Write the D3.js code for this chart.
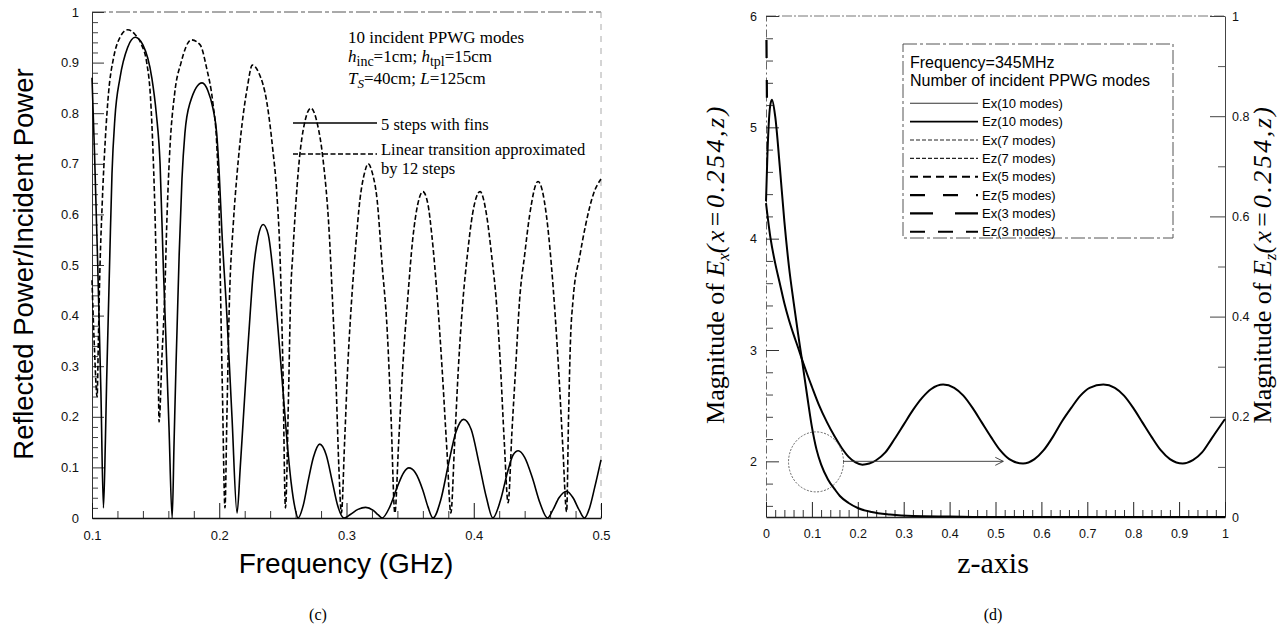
<!DOCTYPE html>
<html><head><meta charset="utf-8">
<script src="https://cdn.jsdelivr.net/npm/d3@7"></script>
<style>body{margin:0;background:#fff}</style>
</head><body><svg id="c" width="1285" height="629"></svg>
<script>
// ---------- panel (c) data ----------
const freqTicks = [0.1, 0.2, 0.3, 0.4, 0.5];
const freqLabels = ["0.1", "0.2", "0.3", "0.4", "0.5"];
const powerTicks = [0, 0.1, 0.2, 0.3, 0.4, 0.5, 0.6, 0.7, 0.8, 0.9, 1];
const powerLabels = ["0", "0.1", "0.2", "0.3", "0.4", "0.5", "0.6", "0.7", "0.8", "0.9", "1"];
// "5 steps with fins" (solid)
const finsCurve = [
  [0.1,0.87],[0.102,0.72],[0.1045,0.5],[0.107,0.25],[0.109,0.02],
  [0.1105,0.15],[0.1115,0.27],[0.1126,0.38],[0.114,0.52],[0.1157,0.68],[0.118,0.79],[0.122,0.87],[0.128,0.93],[0.134,0.95],[0.14,0.935],[0.147,0.87],[0.1505,0.8],[0.1535,0.7],[0.156,0.5],[0.158,0.36],[0.1605,0.18],[0.163,0.0],
  [0.1645,0.15],[0.166,0.3],[0.1668,0.37],[0.1685,0.52],[0.1707,0.67],[0.173,0.76],[0.177,0.82],[0.1865,0.86],[0.191,0.845],[0.195,0.81],[0.198,0.76],[0.2,0.68],[0.202,0.57],[0.206,0.4],[0.21,0.2],[0.214,0.01],
  [0.2165,0.1],[0.219,0.2],[0.2215,0.3],[0.2242,0.4],[0.2265,0.48],[0.2305,0.555],[0.2345,0.58],[0.2385,0.56],[0.2425,0.48],[0.246,0.38],[0.2495,0.27],[0.253,0.16],[0.2565,0.07],[0.2595,0.02],[0.262,0.0],
  [0.266,0.025],[0.27,0.075],[0.274,0.12],[0.279,0.146],[0.284,0.125],[0.289,0.07],[0.293,0.025],[0.298,0.0],
  [0.303,0.007],[0.309,0.017],[0.315,0.021],[0.321,0.015],[0.325,0.006],[0.328,0.0],
  [0.334,0.022],[0.34,0.062],[0.345,0.09],[0.349,0.099],[0.354,0.09],[0.36,0.055],[0.364,0.022],[0.368,0.0],
  [0.374,0.035],[0.38,0.105],[0.386,0.17],[0.392,0.195],[0.398,0.175],[0.404,0.11],[0.41,0.04],[0.415,0.0],
  [0.421,0.035],[0.427,0.095],[0.431,0.125],[0.435,0.133],[0.44,0.12],[0.446,0.08],[0.452,0.03],[0.458,0.0],
  [0.462,0.015],[0.467,0.04],[0.473,0.053],[0.478,0.04],[0.483,0.015],[0.487,0.0],
  [0.491,0.02],[0.495,0.06],[0.5,0.115]
];
// "Linear transition approximated by 12 steps" (dashed)
const linearCurve = [
  [0.1,0.47],[0.102,0.33],[0.104,0.24],[0.105,0.35],[0.106,0.47],[0.108,0.62],[0.1105,0.75],[0.113,0.84],[0.117,0.91],[0.122,0.95],[0.128,0.965],[0.134,0.955],[0.139,0.935],[0.143,0.9],[0.146,0.83],[0.148,0.72],[0.15,0.55],[0.151,0.42],[0.152,0.3],[0.1527,0.19],
  [0.155,0.32],[0.157,0.43],[0.159,0.6],[0.161,0.72],[0.165,0.84],[0.17,0.9],[0.178,0.945],[0.185,0.935],[0.19,0.89],[0.195,0.82],[0.198,0.74],[0.2,0.6],[0.201,0.45],[0.2025,0.25],[0.2045,0.02],
  [0.206,0.2],[0.208,0.43],[0.211,0.58],[0.214,0.68],[0.218,0.78],[0.222,0.85],[0.226,0.895],[0.231,0.88],[0.2375,0.82],[0.242,0.73],[0.245,0.65],[0.248,0.5],[0.25,0.3],[0.252,0.02],
  [0.2545,0.25],[0.256,0.43],[0.258,0.53],[0.263,0.71],[0.267,0.78],[0.272,0.81],[0.277,0.78],[0.2815,0.71],[0.2865,0.56],[0.289,0.43],[0.292,0.25],[0.294,0.1],[0.296,0.01],
  [0.2985,0.15],[0.301,0.3],[0.304,0.43],[0.307,0.53],[0.3106,0.63],[0.314,0.68],[0.317,0.70],[0.3205,0.68],[0.324,0.63],[0.328,0.5],[0.332,0.37],[0.335,0.2],[0.338,0.01],
  [0.341,0.15],[0.345,0.33],[0.348,0.43],[0.352,0.55],[0.356,0.62],[0.36,0.645],[0.364,0.62],[0.367,0.56],[0.3715,0.43],[0.375,0.3],[0.379,0.13],[0.382,0.01],
  [0.385,0.15],[0.388,0.3],[0.3915,0.43],[0.395,0.52],[0.399,0.6],[0.405,0.645],[0.41,0.6],[0.414,0.52],[0.418,0.42],[0.421,0.3],[0.424,0.15],[0.427,0.03],
  [0.43,0.17],[0.433,0.3],[0.436,0.43],[0.44,0.52],[0.444,0.6],[0.4505,0.665],[0.457,0.6],[0.461,0.5],[0.464,0.4],[0.467,0.28],[0.47,0.14],[0.473,0.012],
  [0.4745,0.2],[0.476,0.35],[0.478,0.43],[0.4835,0.52],[0.488,0.58],[0.494,0.64],[0.5,0.67]
];

// ---------- panel (d) data ----------
const zTicks = [0, 0.1, 0.2, 0.3, 0.4, 0.5, 0.6, 0.7, 0.8, 0.9, 1];
const zLabels = ["0", "0.1", "0.2", "0.3", "0.4", "0.5", "0.6", "0.7", "0.8", "0.9", "1"];
const exTicks = [2, 3, 4, 5, 6];
const exLabels = ["2", "3", "4", "5", "6"];
const ezTicks = [0, 0.2, 0.4, 0.6, 0.8, 1];
const ezLabels = ["0", "0.2", "0.4", "0.6", "0.8", "1"];
// |Ex| (left axis)
const exCurve = [
  [0,4.32],[0.01,4.0],[0.02,3.78],[0.03,3.6],[0.04,3.42],[0.05,3.27],[0.06,3.14],[0.07,3.02],[0.078,2.92],[0.09,2.78],[0.1,2.67],[0.115,2.51],[0.133,2.35],[0.15,2.22],[0.165,2.12],[0.18,2.04],[0.195,1.99],[0.21,1.97],[0.225,1.98],[0.24,2.01],
  [0.26,2.08],[0.28,2.2],[0.3,2.33],[0.32,2.46],[0.34,2.57],[0.36,2.65],[0.386,2.69],[0.41,2.66],[0.43,2.59],[0.45,2.48],[0.47,2.35],[0.49,2.22],[0.51,2.1],[0.53,2.02],[0.56,1.98],
  [0.585,2.02],[0.605,2.1],[0.625,2.22],[0.645,2.36],[0.665,2.48],[0.685,2.59],[0.705,2.66],[0.735,2.69],[0.76,2.66],[0.78,2.59],[0.8,2.48],[0.82,2.35],[0.84,2.22],[0.86,2.1],[0.88,2.02],[0.908,1.98],
  [0.93,2.01],[0.95,2.08],[0.97,2.2],[0.985,2.29],[1.0,2.38]
];
// |Ez| (right axis)
const ezCurve = [
  [0,0.63],[0.003,0.72],[0.006,0.785],[0.009,0.82],[0.013,0.833],[0.02,0.80],[0.03,0.70],[0.04,0.59],[0.05,0.5],[0.06,0.43],[0.07,0.365],[0.078,0.316],[0.09,0.24],[0.1,0.18],[0.11,0.135],[0.12,0.105],[0.135,0.075],[0.15,0.055],[0.161,0.042],[0.18,0.028],[0.2,0.018],[0.23,0.01],[0.27,0.005],[0.32,0.002],[0.4,0.001],[0.5,0],[1,0]
];
// short long-dash piece of Ex(3 modes) seen along the left axis
const ex3Piece = [[0.001,5.785],[0.002,5.265]];
const calloutCenter = [0.109, 1.995];
const calloutArrow = [[0.168, 2.0], [0.517, 2.0]];

const legendD = [
  {label: "Ex(10 modes)", dash: null, w: 1.1, c: "#333"},
  {label: "Ez(10 modes)", dash: null, w: 1.6, c: "#000"},
  {label: "Ex(7 modes)", dash: "4,2", w: 1.1, c: "#222"},
  {label: "Ez(7 modes)", dash: "4,2", w: 1.1, c: "#222"},
  {label: "Ex(5 modes)", dash: "8,5", w: 2, c: "#000"},
  {label: "Ez(5 modes)", dash: "15,18", w: 2.2, c: "#000"},
  {label: "Ex(3 modes)", dash: "23,22", w: 2.2, c: "#000"},
  {label: "Ez(3 modes)", dash: "15,13", w: 2.2, c: "#000"}
];

const svg = d3.select("#c");
svg.append("rect").attr("width", 1285).attr("height", 629).attr("fill", "#fff");
const SANS = "'Liberation Sans', Arial, sans-serif";
const SERIF = "'Liberation Serif', 'Times New Roman', serif";

// ================= Panel (c) =================
const fX = d3.scaleLinear().domain([0.1, 0.5]).range([92, 601]);
const pY = d3.scaleLinear().domain([0, 1]).range([518, 12]);
const gc = svg.append("g");

// frame top / right
gc.append("line").attr("x1", fX(0.1)).attr("x2", fX(0.5)).attr("y1", pY(1)).attr("y2", pY(1))
  .attr("stroke", "#555").attr("stroke-dasharray", "14,3,4,3");
gc.append("line").attr("x1", fX(0.5)).attr("x2", fX(0.5)).attr("y1", pY(1)).attr("y2", pY(0))
  .attr("stroke", "#aaa").attr("stroke-dasharray", "6,6");

function styleAxis(g, size, color) {
  g.selectAll("text").attr("font-family", SANS).attr("font-size", size).attr("fill", "#111");
  g.selectAll("line").attr("stroke", color);
  g.select(".domain").attr("stroke", color);
}

// left axis
const yMinorC = pY.ticks(50).filter(v => Math.abs(v * 10 - Math.round(v * 10)) > 1e-6);
gc.append("g").attr("transform", `translate(${fX(0.1)},0)`)
  .call(d3.axisLeft(pY).tickValues(yMinorC).tickSize(-6).tickFormat(""))
  .call(g => g.select(".domain").remove())
  .call(g => g.selectAll("line").attr("stroke", "#444"));
gc.append("g").attr("transform", `translate(${fX(0.1)},0)`)
  .call(d3.axisLeft(pY).tickValues(powerTicks).tickSize(-12).tickSizeOuter(0).tickPadding(13)
    .tickFormat((d, i) => powerLabels[i]))
  .call(g => styleAxis(g, 13, "#333"));

// bottom axis
const xMinorC = fX.ticks(20).filter(v => Math.abs(v * 10 - Math.round(v * 10)) > 1e-6);
gc.append("g").attr("transform", `translate(0,${pY(0)})`)
  .call(d3.axisBottom(fX).tickValues(xMinorC).tickSize(-7).tickFormat(""))
  .call(g => g.select(".domain").remove())
  .call(g => g.selectAll("line").attr("stroke", "#333"));
gc.append("g").attr("transform", `translate(0,${pY(0)})`)
  .call(d3.axisBottom(fX).tickValues(freqTicks).tickSize(-15).tickSizeOuter(0).tickPadding(13)
    .tickFormat((d, i) => freqLabels[i]))
  .call(g => styleAxis(g, 13, "#111"))
  .call(g => g.select(".domain").attr("stroke-width", 1.5));

const lineC = d3.line().x(d => fX(d[0])).y(d => pY(d[1])).curve(d3.curveMonotoneX);
gc.append("path").datum(linearCurve).attr("d", lineC).attr("fill", "none")
  .attr("stroke", "#000").attr("stroke-width", 1.6).attr("stroke-dasharray", "5,2.5");
gc.append("path").datum(finsCurve).attr("d", lineC).attr("fill", "none")
  .attr("stroke", "#000").attr("stroke-width", 1.6);

// axis titles
gc.append("text").attr("transform", "translate(33,264) rotate(-90)").attr("text-anchor", "middle")
  .attr("font-family", SANS).attr("font-size", 27.5).text("Reflected Power/Incident Power");
gc.append("text").attr("x", 346).attr("y", 573).attr("text-anchor", "middle")
  .attr("font-family", SANS).attr("font-size", 28).text("Frequency (GHz)");
gc.append("text").attr("x", 318).attr("y", 620).attr("text-anchor", "middle")
  .attr("font-family", SERIF).attr("font-size", 16).text("(c)");

// annotation
const ann = gc.append("g").attr("font-family", SERIF).attr("font-size", 17);
ann.append("text").attr("x", 348).attr("y", 43).text("10 incident PPWG modes");
const a2 = ann.append("text").attr("x", 348).attr("y", 62);
a2.append("tspan").attr("font-style", "italic").text("h");
a2.append("tspan").attr("font-size", 14).attr("dy", 4).text("inc");
a2.append("tspan").attr("dy", -4).text("=1cm; ");
a2.append("tspan").attr("font-style", "italic").text("h");
a2.append("tspan").attr("font-size", 14).attr("dy", 4).text("tpl");
a2.append("tspan").attr("dy", -4).text("=15cm");
const a3 = ann.append("text").attr("x", 348).attr("y", 83.5);
a3.append("tspan").attr("font-style", "italic").text("T");
a3.append("tspan").attr("font-style", "italic").attr("font-size", 13).attr("dy", 4).text("S");
a3.append("tspan").attr("dy", -4).text("=40cm; ");
a3.append("tspan").attr("font-style", "italic").text("L");
a3.append("tspan").text("=125cm");

// legend (c)
const lg = gc.append("g").attr("font-family", SERIF).attr("font-size", 16.5);
lg.append("line").attr("x1", 293).attr("x2", 377).attr("y1", 123).attr("y2", 123)
  .attr("stroke", "#000").attr("stroke-width", 1.6);
lg.append("text").attr("x", 381).attr("y", 129.5).text("5 steps with fins");
lg.append("line").attr("x1", 293).attr("x2", 377).attr("y1", 154).attr("y2", 154)
  .attr("stroke", "#000").attr("stroke-width", 1.6).attr("stroke-dasharray", "5,2.5");
lg.append("text").attr("x", 381).attr("y", 155).text("Linear transition approximated");
lg.append("text").attr("x", 381).attr("y", 174).text("by 12 steps");

// ================= Panel (d) =================
const zX = d3.scaleLinear().domain([0, 1]).range([766, 1225]);
const exY = d3.scaleLinear().domain([1.5, 6]).range([517, 16]);
const ezY = d3.scaleLinear().domain([0, 1]).range([517, 16]);
const gd = svg.append("g");

gd.append("line").attr("x1", zX(0)).attr("x2", zX(1)).attr("y1", exY(6)).attr("y2", exY(6))
  .attr("stroke", "#777").attr("stroke-dasharray", "10,2,2,2");

// left axis
const exMinor = exY.ticks(25).filter(v => Math.abs(v - Math.round(v)) > 1e-6 && v > 1.5);
gd.append("g").attr("transform", `translate(${zX(0)},0)`)
  .call(d3.axisLeft(exY).tickValues(exMinor).tickSize(-7).tickFormat(""))
  .call(g => g.select(".domain").remove())
  .call(g => g.selectAll("line").attr("stroke", "#444"));
gd.append("g").attr("transform", `translate(${zX(0)},0)`)
  .call(d3.axisLeft(exY).tickValues(exTicks).tickSize(-13).tickSizeOuter(0).tickPadding(9)
    .tickFormat((d, i) => exLabels[i]))
  .call(g => styleAxis(g, 12.5, "#333"))
  .call(g => g.select(".domain").attr("stroke", "#666").attr("stroke-dasharray", "8,3,2,3"));

// right axis
const ezMinor = ezY.ticks(10).filter(v => Math.abs(v * 5 - Math.round(v * 5)) > 1e-6);
gd.append("g").attr("transform", `translate(${zX(1)},0)`)
  .call(d3.axisRight(ezY).tickValues(ezMinor).tickSize(-7).tickFormat(""))
  .call(g => g.select(".domain").remove())
  .call(g => g.selectAll("line").attr("stroke", "#555"));
gd.append("g").attr("transform", `translate(${zX(1)},0)`)
  .call(d3.axisRight(ezY).tickValues(ezTicks).tickSize(-15).tickSizeOuter(0).tickPadding(7)
    .tickFormat((d, i) => ezLabels[i]))
  .call(g => styleAxis(g, 12.5, "#444"));

// bottom axis
const zMinor = zX.ticks(50).filter(v => Math.abs(v * 10 - Math.round(v * 10)) > 1e-6);
gd.append("g").attr("transform", `translate(0,${exY(1.5)})`)
  .call(d3.axisBottom(zX).tickValues(zMinor).tickSize(-7).tickFormat(""))
  .call(g => g.select(".domain").remove())
  .call(g => g.selectAll("line").attr("stroke", "#333"));
gd.append("g").attr("transform", `translate(0,${exY(1.5)})`)
  .call(d3.axisBottom(zX).tickValues(zTicks).tickSize(-15).tickSizeOuter(0).tickPadding(12)
    .tickFormat((d, i) => zLabels[i]))
  .call(g => styleAxis(g, 12.5, "#222"))
  .call(g => g.select(".domain").attr("stroke-width", 1.5));

// curves
const lineEx = d3.line().x(d => zX(d[0])).y(d => exY(d[1])).curve(d3.curveMonotoneX);
const lineEz = d3.line().x(d => zX(d[0])).y(d => ezY(d[1])).curve(d3.curveMonotoneX);
gd.append("path").datum(ex3Piece).attr("d", lineEx).attr("fill", "none")
  .attr("stroke", "#000").attr("stroke-width", 2.2).attr("stroke-dasharray", "18,22");
gd.append("path").datum(exCurve).attr("d", lineEx).attr("fill", "none")
  .attr("stroke", "#000").attr("stroke-width", 2);
gd.append("path").datum(ezCurve).attr("d", lineEz).attr("fill", "none")
  .attr("stroke", "#000").attr("stroke-width", 2);

// callout circle + arrow
gd.append("ellipse").attr("cx", zX(calloutCenter[0])).attr("cy", exY(calloutCenter[1]))
  .attr("rx", 27.5).attr("ry", 30).attr("fill", "none").attr("stroke", "#555")
  .attr("stroke-width", 0.9).attr("stroke-dasharray", "2,1.5");
const ax1 = zX(calloutArrow[0][0]), ax2 = zX(calloutArrow[1][0]), ay = exY(calloutArrow[0][1]);
gd.append("line").attr("x1", ax1).attr("x2", ax2).attr("y1", ay).attr("y2", ay)
  .attr("stroke", "#333").attr("stroke-width", 0.9);
gd.append("path").attr("d", `M${ax2 - 8},${ay - 4}L${ax2},${ay}L${ax2 - 8},${ay + 4}`)
  .attr("fill", "none").attr("stroke", "#333").attr("stroke-width", 0.9);

// legend (d)
const lgd = gd.append("g");
lgd.append("rect").attr("x", 903).attr("y", 44).attr("width", 270).attr("height", 194)
  .attr("fill", "#fff").attr("stroke", "#555").attr("stroke-dasharray", "14,3,3,3");
lgd.append("text").attr("x", 910).attr("y", 68).attr("font-family", SANS).attr("font-size", 16)
  .text("Frequency=345MHz");
lgd.append("text").attr("x", 910).attr("y", 86).attr("font-family", SANS).attr("font-size", 16)
  .text("Number of incident PPWG modes");
legendD.forEach((d, i) => {
  const y = 103.3 + i * 18.35;
  const ln = lgd.append("line").attr("x1", 910).attr("x2", 978).attr("y1", y).attr("y2", y)
    .attr("stroke", d.c).attr("stroke-width", d.w);
  if (d.dash) ln.attr("stroke-dasharray", d.dash);
  lgd.append("text").attr("x", 982).attr("y", y + 4.5).attr("font-family", SANS)
    .attr("font-size", 13).text(d.label);
});

// axis titles (d)
function magLabel(x, sub) {
  const t = gd.append("text").attr("transform", `translate(${x},264) rotate(-90)`)
    .attr("text-anchor", "middle").attr("font-family", SERIF).attr("font-size", 26);
  t.append("tspan").text("Magnitude of ");
  t.append("tspan").attr("font-style", "italic").text("E");
  t.append("tspan").attr("font-style", "italic").attr("font-size", 17).attr("dy", 5).text(sub);
  t.append("tspan").attr("font-style", "italic").attr("dy", -5).attr("letter-spacing", 2.5)
    .text("(x=0.254,z)");
}
magLabel(724, "x");
magLabel(1271, "z");
gd.append("text").attr("x", 993).attr("y", 573).attr("text-anchor", "middle")
  .attr("font-family", SERIF).attr("font-size", 30).text("z-axis");
gd.append("text").attr("x", 993).attr("y", 620).attr("text-anchor", "middle")
  .attr("font-family", SERIF).attr("font-size", 16).text("(d)");
</script>
</body></html>
